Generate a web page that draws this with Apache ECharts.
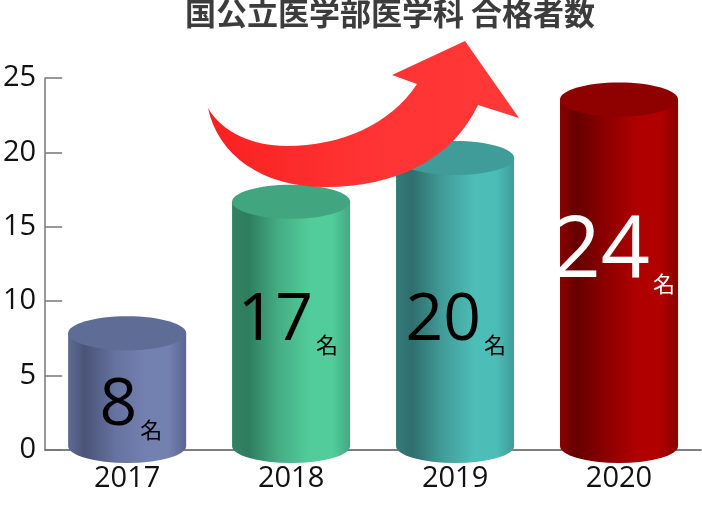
<!DOCTYPE html>
<html>
<head>
<meta charset="utf-8">
<style>html,body{margin:0;padding:0;background:#fff}#c{width:702px;height:506px}</style>
<script src="https://cdn.jsdelivr.net/npm/echarts@6/dist/echarts.min.js"></script>
</head>
<body>
<div id="c"></div>
<script>
const years = ['2017', '2018', '2019', '2020'];
const passers = [8, 17, 20, 24];
const unitLabel = '名';
const chartTitle = '国公立医学部医学科 合格者数';

// styling only
const palettes = [
  {edge:'#5f6b94', dark:'#4a5478', mid:'#66729f', light:'#7381b1', end:'#5a6690', top:'#5f6c95', text:'#000'},
  {edge:'#318262', dark:'#2e7d5f', mid:'#45ae85', light:'#52cc9b', end:'#44a883', top:'#41a57f', text:'#000'},
  {edge:'#357a78', dark:'#2f6f6e', mid:'#429d99', light:'#4dbdb7', end:'#3f9c99', top:'#3f9c99', text:'#000'},
  {edge:'#8a0000', dark:'#660000', mid:'#8f0000', light:'#b00000', end:'#8a0000', top:'#8f0000', text:'#fff'}
];
const labelStyle = [
  {split:10, mid:406, size:66},
  {split:22, mid:321, size:66},
  {split:26, mid:321, size:66},
  {split:31, mid:252, size:86}
];

function renderCylinder(params, api) {
  const i = api.value(0);
  const c = api.coord([i, api.value(1)]);
  const base = api.coord([i, 0]);
  const band = api.size([1, 0])[0];
  const hw = band * 0.36, ry = 17;
  const cx = c[0], topY = c[1], botY = base[1] - 4;
  const p = palettes[i], l = labelStyle[i];
  const grad = {type:'linear', x:0, y:0, x2:1, y2:0, colorStops:[
    {offset:0, color:p.edge},{offset:0.14, color:p.dark},{offset:0.4, color:p.mid},
    {offset:0.66, color:p.light},{offset:0.85, color:p.light},{offset:1, color:p.end}]};
  const body = `M${cx-hw} ${topY} L${cx-hw} ${botY} A${hw} ${ry} 0 0 0 ${cx+hw} ${botY} L${cx+hw} ${topY} Z`;
  const font = (s) => `${s}px "Open Sans","Noto Sans CJK JP",sans-serif`;
  return {type:'group', children:[
    {type:'path', shape:{pathData:body}, style:{fill:grad}},
    {type:'ellipse', shape:{cx:cx, cy:topY, rx:hw, ry:ry}, style:{fill:p.top}},
    {type:'text', style:{text:String(api.value(1)), x:cx+l.split, y:l.mid, fill:p.text,
      align:'right', verticalAlign:'middle', font:font(l.size)}},
    {type:'text', style:{text:unitLabel, x:cx+l.split+3, y:l.mid+12+(l.size>70?8:0)+12, fill:p.text,
      align:'left', verticalAlign:'middle', font:'22px "Noto Sans CJK JP",sans-serif'}}
  ]};
}

echarts.graphic.registerShape('risingArrow', echarts.graphic.extendPath(
  'M208 108 C222 132 252 146 287 146 C340 146 390 125 417 84 L392 75 L465 41 L519 118 L478 105 C452 160 395 187 325 187 C262 187 218 155 208 108 Z', {}));

const axisText = {color:'#111', fontFamily:'Open Sans', fontSize:29};
const option = {
  animation:false,
  title:{text:chartTitle, left:185, top:-2, padding:0,
    textStyle:{fontFamily:'Noto Sans CJK JP', fontSize:31, fontWeight:'bold', color:'#3c3c3c'}},
  grid:{left:45, top:78, width:656, height:372},
  xAxis:{type:'category', data:years,
    axisLine:{lineStyle:{color:'#555', width:1.5}},
    axisTick:{inside:true, length:10, alignWithLabel:false, lineStyle:{color:'#777', width:1.5}},
    axisLabel:{...axisText, margin:14}},
  yAxis:[
    {type:'value', min:0, max:25, interval:5,
      axisLine:{show:true, lineStyle:{color:'#777', width:1.5}},
      axisTick:{show:true, inside:true, length:17, lineStyle:{color:'#777', width:1.5}},
      splitLine:{show:false},
      axisLabel:{...axisText, margin:9}},
    {type:'value', min:0, max:25.48, show:false, splitLine:{show:false}}
  ],
  series:[{type:'custom', yAxisIndex:1, renderItem:renderCylinder, clip:false, silent:true,
    encode:{x:0, y:1}, data:years.map((y,i)=>[i, passers[i]])}],
  graphic:[{type:'risingArrow', z:100, silent:true,
    style:{fill:{type:'linear', x:0, y:0, x2:1, y2:0, colorStops:[{offset:0,color:'#f92020'},{offset:0.5,color:'#ff3333'},{offset:1,color:'#ff3838'}]}}}]
};
echarts.init(document.getElementById('c'), null, {renderer:'canvas'}).setOption(option);
</script>
</body>
</html>
